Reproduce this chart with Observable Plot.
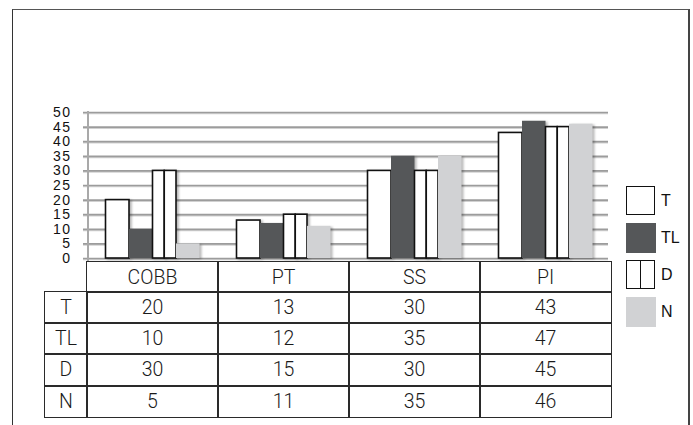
<!DOCTYPE html>
<html>
<head>
<meta charset="utf-8">
<script src="https://cdn.jsdelivr.net/npm/d3@7"></script>
<script src="https://cdn.jsdelivr.net/npm/@observablehq/plot@0.6"></script>
<style>
  html, body { margin: 0; padding: 0; background: #fff; width: 693px; height: 425px; overflow: hidden; }
  #root { position: relative; width: 693px; height: 425px; overflow: hidden; }
  #frame { position: absolute; left: 12px; top: 9px; width: 678px; height: 600px; box-sizing: border-box;
           border-top: 1.5px solid #555; border-left: 1.5px solid #333; border-right: 2.5px solid #444; }
  #chart { position: absolute; left: 0; top: 0; }
  #chart svg text { letter-spacing: 1.3px; fill: #111; }
  #chart svg g[aria-label="bar"] { filter: drop-shadow(2px 1px 1px rgba(0,0,0,0.28)); }
  #chart svg g[aria-label="rule"] { filter: drop-shadow(0px 1px 0.6px rgba(0,0,0,0.18)); }
  #yline { position: absolute; left: 87px; top: 111px; width: 1.7px; height: 151px; background: #a9a9a9; }
  #table { position: absolute; left: 45px; top: 262px; display: grid;
           grid-template-columns: 42px repeat(4, 131px); grid-template-rows: 30px repeat(4, 31.2px);
           font-family: Roboto, "Noto Sans", sans-serif; font-weight: 300; font-size: 19.5px; color: #1a1a1a; }
  .cell { display: flex; align-items: center; justify-content: center; outline: 1.6px solid #2a2a2a; outline-offset: -0.8px; }
  .empty { outline: none; }
  .lg-box { position: absolute; left: 626px; width: 29px; height: 29px; box-sizing: border-box; }
  .lg-lab { position: absolute; left: 661px; font-family: "Liberation Sans", Arial, sans-serif; font-size: 16px; color: #111; line-height: 29px; }
</style>
</head>
<body>
<div id="root">
  <div id="frame"></div>
  <div id="chart"></div>
  <div id="yline"></div>
  <div id="table"></div>
  <div id="legend"></div>
</div>
<script>
// ---- data ----
const categories = ["COBB", "PT", "SS", "PI"];
const seriesNames = ["T", "TL", "D", "N"];
const valuesT  = [20, 13, 30, 43];
const valuesTL = [10, 12, 35, 47];
const valuesD  = [30, 15, 30, 45];
const valuesN  = [5, 11, 35, 46];
const yTicks = [0, 5, 10, 15, 20, 25, 30, 35, 40, 45, 50];

const seriesValues = { T: valuesT, TL: valuesTL, D: valuesD, N: valuesN };
const rows = seriesNames.flatMap(s => categories.map((c, i) => ({ category: c, series: s, value: seriesValues[s][i] })));

// ---- layout ----
const W = 693, H = 262;
const marginLeft = 87, marginRight = 82;
const bandW = (W - marginLeft - marginRight) / categories.length; // 131
const groupPad = 18.5;
const barW = (bandW - 2 * groupPad) / seriesNames.length;

function insets(k, sub = 0, nsub = 1) {
  const left = groupPad + barW * k + (barW / nsub) * sub;
  const right = bandW - left - barW / nsub;
  return { insetLeft: left, insetRight: right };
}

const seriesStyle = {
  T:  { fill: "#ffffff", stroke: "#111", strokeWidth: 1.6 },
  TL: { fill: "#555759" },
  D:  { fill: "#ffffff", stroke: "#111", strokeWidth: 1.6 },
  N:  { fill: "#d1d2d4" }
};

const barMarks = [];
seriesNames.forEach((s, k) => {
  const data = rows.filter(d => d.series === s);
  if (s === "D") {
    barMarks.push(Plot.barY(data, { x: "category", y: "value", ...seriesStyle[s], ...insets(k, 0, 2) }));
    barMarks.push(Plot.barY(data, { x: "category", y: "value", ...seriesStyle[s], ...insets(k, 1, 2) }));
  } else {
    barMarks.push(Plot.barY(data, { x: "category", y: "value", ...seriesStyle[s], ...insets(k) }));
  }
});

const chart = Plot.plot({
  width: W,
  height: H,
  marginLeft,
  marginRight,
  marginTop: 112,
  marginBottom: 4,
  style: { fontFamily: "'Liberation Sans', Arial, sans-serif", fontSize: "14px", background: "transparent", overflow: "visible" },
  x: { domain: categories, padding: 0, axis: null },
  y: { domain: [0, 50], ticks: yTicks, tickSize: 0, tickPadding: 16.2, label: null },
  marks: [
    Plot.ruleY(yTicks, { stroke: "#9c9c9c", strokeWidth: 1.7, insetLeft: -4, insetRight: 3 }),
    ...barMarks
  ]
});
document.getElementById("chart").appendChild(chart);

// ---- data table ----
const table = document.getElementById("table");
function addCell(text, cls) {
  const div = document.createElement("div");
  div.className = "cell" + (cls ? " " + cls : "");
  div.textContent = text;
  table.appendChild(div);
}
addCell("", "empty");
categories.forEach(c => addCell(c));
seriesNames.forEach(s => {
  addCell(s);
  seriesValues[s].forEach(v => addCell(String(v)));
});

// ---- legend ----
const legend = document.getElementById("legend");
const legendTop = 186, legendStep = 37;
seriesNames.forEach((s, i) => {
  const box = document.createElement("div");
  box.className = "lg-box";
  box.style.top = (legendTop + i * legendStep) + "px";
  const st = seriesStyle[s];
  box.style.background = st.fill;
  if (st.stroke) box.style.border = "1.6px solid " + st.stroke;
  else { box.style.width = "30px"; box.style.height = "30px"; }
  if (s === "D") {
    const mid = document.createElement("div");
    mid.style.cssText = "position:absolute;left:50%;top:0;bottom:0;width:1.6px;margin-left:-0.8px;background:#111;";
    box.appendChild(mid);
  }
  legend.appendChild(box);
  const lab = document.createElement("div");
  lab.className = "lg-lab";
  lab.style.top = (legendTop + i * legendStep) + "px";
  lab.textContent = s;
  legend.appendChild(lab);
});
</script>
</body>
</html>
